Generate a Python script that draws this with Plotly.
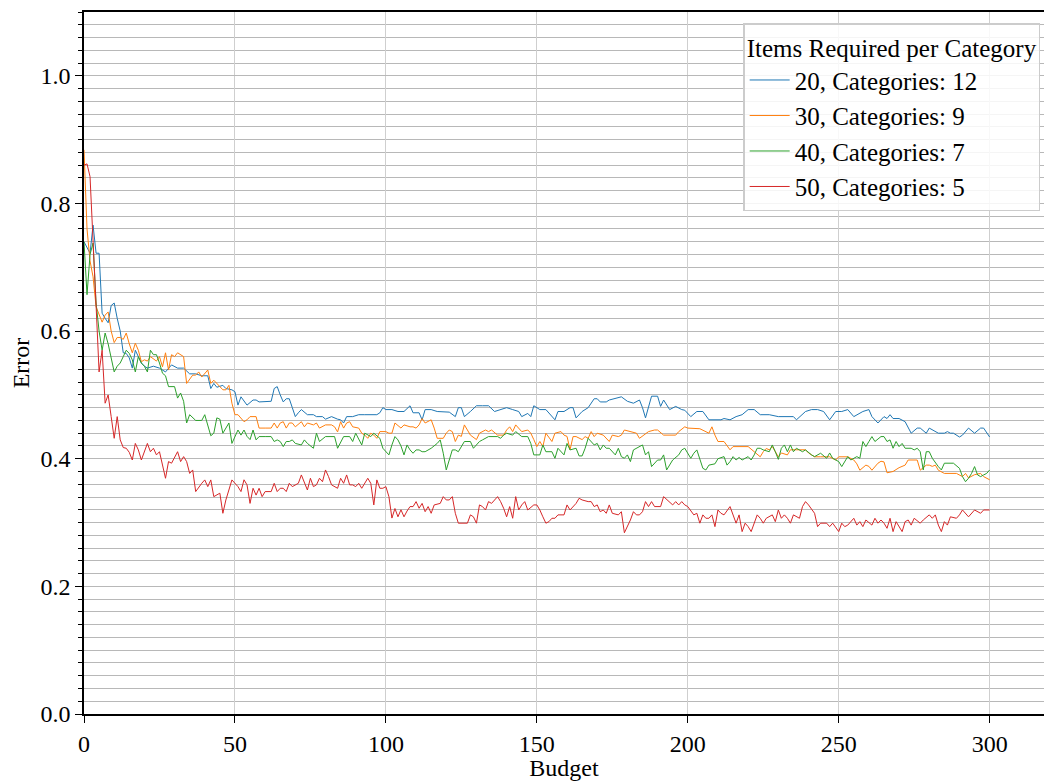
import plotly.graph_objects as go

# ---- data (budget, error) ----
series_names = ["20, Categories: 12", "30, Categories: 9", "40, Categories: 7", "50, Categories: 5"]
series_colors = ["#1f77b4", "#ff7f0e", "#2ca02c", "#d62728"]

err_20 = [(0,0.74),(1,0.73),(2,0.722),(3,0.766),(4,0.722),(5,0.722),(6,0.628),(7,0.62),(8,0.613),(9,0.64),(10,0.644),(11,0.62),(12,0.60),(13,0.566),(14,0.565),(15,0.558),(16,0.542),(17,0.57),(18,0.56),(19,0.55),(20,0.545),(21,0.542),(23,0.545),(25,0.542),(27,0.536),(29,0.547),(31,0.542),(33,0.542),(35,0.533),(37,0.533),(39,0.53),(41,0.53),(42,0.51),(43,0.518),(44,0.512),(46,0.515),(47,0.51),(49,0.508),(50,0.505),(51,0.484),(52,0.497),(53,0.49),(54,0.484),(56,0.492),(57,0.492),(58,0.489),(60,0.489),(62,0.49),(63,0.51),(64,0.513),(65,0.5),(66,0.489),(67,0.494),(68,0.494),(69,0.48),(70,0.466),(71,0.472),(72,0.477),(74,0.469),(76,0.469),(77,0.466),(79,0.466),(80,0.462),(82,0.466),(84,0.462),(85,0.461),(86,0.456),(87,0.466),(89,0.466),(91,0.469),(93,0.469),(95,0.469),(97,0.469),(98,0.472),(99,0.48),(100,0.477),(102,0.477),(104,0.474),(106,0.474),(108,0.483),(109,0.472),(111,0.472),(112,0.461),(113,0.477),(115,0.477),(117,0.474),(119,0.474),(121,0.473),(123,0.466),(124,0.48),(125,0.48),(126,0.466),(128,0.474),(130,0.483),(132,0.483),(134,0.483),(136,0.474),(138,0.477),(140,0.48),(142,0.477),(144,0.474),(145,0.466),(147,0.471),(148,0.466),(149,0.483),(151,0.477),(153,0.477),(156,0.461),(157,0.474),(159,0.474),(161,0.48),(162,0.48),(163,0.464),(165,0.474),(167,0.48),(169,0.494),(170,0.494),(171,0.489),(173,0.489),(174,0.492),(176,0.495),(178,0.497),(180,0.49),(182,0.487),(184,0.492),(185,0.48),(186,0.464),(188,0.498),(190,0.498),(191,0.482),(192,0.492),(194,0.477),(196,0.482),(198,0.477),(199,0.476),(201,0.466),(203,0.474),(205,0.474),(207,0.461),(209,0.461),(211,0.461),(212,0.463),(214,0.461),(216,0.466),(218,0.469),(220,0.477),(222,0.477),(224,0.469),(227,0.469),(230,0.466),(233,0.466),(235,0.466),(236,0.461),(239,0.474),(241,0.477),(243,0.477),(245,0.474),(247,0.461),(249,0.474),(251,0.474),(253,0.477),(255,0.466),(258,0.474),(260,0.477),(261,0.466),(263,0.456),(265,0.466),(266,0.463),(267,0.469),(268,0.463),(270,0.463),(272,0.458),(274,0.440),(276,0.448),(277,0.448),(279,0.44),(280,0.448),(281,0.445),(283,0.44),(285,0.44),(286,0.4425),(287,0.44),(288,0.44),(290,0.434),(291,0.437),(293,0.448),(295,0.44),(297,0.448),(298,0.448),(300,0.434)]

err_30 = [(0,0.884),(1,0.76),(2,0.71),(3,0.685),(4,0.638),(5,0.625),(6,0.614),(7,0.625),(8,0.63),(9,0.6),(10,0.582),(11,0.59),(12,0.59),(13,0.587),(14,0.597),(15,0.58),(16,0.566),(17,0.581),(18,0.57),(19,0.552),(20,0.555),(21,0.553),(22,0.56),(24,0.553),(25,0.56),(26,0.544),(27,0.566),(28,0.539),(29,0.563),(30,0.56),(31,0.566),(33,0.56),(34,0.518),(36,0.531),(37,0.531),(38,0.536),(39,0.528),(41,0.539),(42,0.518),(43,0.523),(44,0.518),(46,0.508),(47,0.508),(48,0.515),(49,0.487),(50,0.469),(51,0.469),(52,0.464),(53,0.458),(54,0.461),(55,0.466),(57,0.466),(58,0.448),(60,0.448),(62,0.448),(63,0.456),(64,0.448),(65,0.456),(66,0.458),(67,0.448),(68,0.456),(69,0.456),(70,0.45),(72,0.458),(73,0.45),(74,0.456),(76,0.453),(77,0.456),(78,0.448),(80,0.453),(82,0.453),(83,0.45),(84,0.442),(85,0.458),(86,0.448),(87,0.456),(88,0.458),(89,0.45),(91,0.448),(92,0.44),(93,0.437),(94,0.432),(95,0.44),(96,0.437),(97,0.432),(98,0.4425),(100,0.4425),(101,0.44),(102,0.44),(103,0.456),(105,0.448),(106,0.453),(108,0.45),(109,0.45),(110,0.448),(111,0.453),(112,0.463),(113,0.456),(115,0.461),(116,0.448),(117,0.432),(119,0.432),(120,0.44),(121,0.445),(122,0.4425),(123,0.427),(124,0.437),(125,0.435),(126,0.453),(127,0.445),(128,0.437),(130,0.43),(131,0.44),(133,0.445),(134,0.4425),(135,0.445),(137,0.437),(139,0.437),(140,0.445),(141,0.45),(142,0.4425),(143,0.453),(144,0.448),(145,0.4425),(147,0.445),(148,0.44),(149,0.43),(150,0.419),(151,0.427),(152,0.419),(153,0.44),(155,0.427),(156,0.44),(158,0.4425),(159,0.437),(160,0.435),(161,0.414),(162,0.4347),(163,0.4347),(165,0.43),(166,0.4347),(167,0.432),(168,0.4425),(169,0.4347),(170,0.44),(172,0.437),(174,0.427),(175,0.437),(177,0.4347),(178,0.437),(179,0.445),(181,0.4425),(183,0.44),(184,0.432),(187,0.4425),(189,0.445),(190,0.445),(192,0.437),(194,0.437),(196,0.437),(197,0.4425),(199,0.45),(200,0.448),(202,0.447),(204,0.447),(207,0.44),(208,0.45),(209,0.437),(210,0.427),(212,0.427),(214,0.414),(215,0.419),(218,0.419),(220,0.419),(222,0.411),(224,0.403),(225,0.411),(226,0.416),(227,0.414),(228,0.419),(230,0.403),(231,0.409),(233,0.406),(234,0.414),(237,0.414),(239,0.414),(240,0.409),(242,0.403),(244,0.403),(247,0.403),(249,0.398),(250,0.403),(253,0.403),(255,0.398),(256,0.392),(257,0.382),(259,0.39),(260,0.388),(261,0.382),(263,0.393),(264,0.396),(265,0.395),(266,0.378),(268,0.38),(270,0.386),(272,0.39),(273,0.398),(276,0.398),(277,0.382),(279,0.39),(280,0.39),(281,0.388),(282,0.39),(283,0.382),(285,0.377),(289,0.377),(291,0.372),(292,0.377),(293,0.37),(295,0.375),(297,0.377),(298,0.372),(300,0.367)]

err_40 = [(0,0.74),(1,0.657),(2,0.72),(3,0.738),(4,0.644),(5,0.6),(6,0.57),(7,0.597),(8,0.58),(9,0.56),(10,0.536),(11,0.545),(12,0.55),(13,0.56),(14,0.57),(15,0.565),(16,0.555),(17,0.536),(18,0.56),(19,0.55),(20,0.545),(21,0.536),(22,0.57),(23,0.563),(24,0.563),(25,0.55),(26,0.534),(27,0.53),(28,0.513),(30,0.513),(31,0.495),(32,0.503),(33,0.49),(34,0.456),(35,0.469),(37,0.46),(39,0.46),(40,0.469),(42,0.436),(43,0.44),(44,0.464),(45,0.462),(46,0.44),(48,0.456),(49,0.424),(51,0.445),(52,0.437),(53,0.445),(54,0.435),(55,0.43),(56,0.445),(57,0.4295),(58,0.4347),(60,0.4347),(62,0.4347),(63,0.427),(64,0.4295),(65,0.427),(66,0.419),(67,0.427),(68,0.427),(69,0.4295),(70,0.424),(72,0.4216),(73,0.4295),(74,0.424),(76,0.4164),(77,0.44),(78,0.427),(80,0.4347),(83,0.4347),(84,0.4164),(86,0.4347),(88,0.4347),(89,0.427),(90,0.44),(92,0.4216),(93,0.44),(95,0.4347),(96,0.44),(98,0.432),(99,0.4164),(101,0.406),(102,0.4216),(103,0.4347),(104,0.4295),(105,0.42),(106,0.406),(107,0.4216),(108,0.4138),(109,0.4086),(110,0.4138),(111,0.4138),(112,0.411),(113,0.411),(115,0.4164),(117,0.424),(118,0.4295),(119,0.4086),(120,0.3824),(121,0.398),(122,0.4138),(123,0.4138),(124,0.411),(126,0.427),(128,0.427),(129,0.4164),(130,0.4216),(131,0.427),(132,0.4295),(134,0.4347),(137,0.4347),(138,0.432),(139,0.437),(140,0.44),(142,0.437),(143,0.4425),(145,0.4347),(147,0.4347),(148,0.424),(149,0.406),(151,0.406),(152,0.4216),(153,0.411),(155,0.411),(156,0.4007),(157,0.4164),(159,0.406),(160,0.424),(161,0.4138),(163,0.4164),(164,0.4044),(165,0.4044),(166,0.4164),(167,0.432),(169,0.4216),(170,0.424),(171,0.4138),(172,0.4216),(173,0.4164),(174,0.4164),(176,0.406),(177,0.4164),(178,0.4033),(179,0.4007),(180,0.406),(181,0.3955),(182,0.4138),(183,0.4164),(185,0.4216),(186,0.406),(187,0.411),(188,0.3877),(190,0.398),(191,0.398),(192,0.406),(193,0.3824),(195,0.398),(197,0.406),(198,0.4138),(199,0.4164),(201,0.4007),(202,0.4086),(203,0.4138),(205,0.385),(206,0.3824),(207,0.39),(209,0.392),(210,0.4),(212,0.4033),(213,0.39),(214,0.3955),(215,0.4033),(216,0.398),(217,0.402),(218,0.398),(220,0.4033),(221,0.398),(222,0.406),(223,0.4164),(224,0.4164),(225,0.4138),(227,0.411),(228,0.4216),(229,0.411),(230,0.399),(231,0.4164),(232,0.4216),(233,0.411),(234,0.4216),(235,0.411),(236,0.4164),(238,0.411),(239,0.4138),(241,0.406),(242,0.4033),(244,0.4086),(246,0.4007),(247,0.409),(248,0.4007),(250,0.3955),(251,0.3877),(253,0.4033),(254,0.398),(256,0.4033),(257,0.4007),(258,0.427),(259,0.419),(260,0.427),(261,0.4347),(262,0.427),(264,0.4347),(265,0.4347),(266,0.427),(267,0.4295),(268,0.4164),(269,0.427),(270,0.419),(271,0.424),(272,0.4164),(274,0.4164),(275,0.4138),(276,0.4164),(277,0.411),(278,0.3824),(279,0.411),(280,0.411),(281,0.4007),(283,0.3877),(284,0.3824),(285,0.393),(288,0.393),(290,0.385),(291,0.372),(292,0.364),(293,0.3694),(294,0.377),(295,0.3877),(296,0.3746),(297,0.372),(298,0.3746),(299,0.377),(300,0.3824)]

err_50 = [(0,0.86),(1,0.862),(2,0.842),(3,0.748),(4,0.64),(5,0.536),(6,0.57),(7,0.487),(8,0.5),(9,0.466),(10,0.432),(11,0.466),(12,0.4295),(13,0.4175),(14,0.4164),(15,0.41),(16,0.398),(17,0.424),(18,0.4138),(19,0.398),(21,0.424),(22,0.411),(23,0.4164),(24,0.406),(25,0.411),(27,0.3694),(28,0.3955),(29,0.393),(31,0.411),(32,0.3955),(33,0.4033),(34,0.3955),(35,0.377),(36,0.3824),(37,0.3485),(39,0.3615),(40,0.3668),(41,0.3563),(42,0.3668),(43,0.3406),(45,0.346),(46,0.3145),(47,0.3354),(49,0.3668),(51,0.3563),(52,0.3485),(53,0.367),(54,0.359),(55,0.33),(56,0.3537),(57,0.343),(58,0.3537),(59,0.3406),(60,0.3485),(62,0.3485),(63,0.3615),(64,0.3485),(65,0.3537),(66,0.3537),(67,0.3485),(68,0.3615),(69,0.3563),(70,0.359),(71,0.3615),(72,0.3746),(74,0.351),(75,0.3694),(76,0.3563),(77,0.359),(78,0.3694),(79,0.364),(80,0.3824),(81,0.372),(82,0.359),(84,0.3537),(85,0.3694),(86,0.3615),(87,0.3746),(88,0.359),(89,0.359),(90,0.3563),(91,0.3615),(92,0.3537),(94,0.3694),(95,0.3615),(96,0.3276),(97,0.3668),(98,0.3537),(99,0.3537),(100,0.3563),(101,0.3406),(102,0.307),(103,0.322),(104,0.309),(105,0.32),(106,0.309),(107,0.318),(108,0.325),(109,0.325),(110,0.3328),(111,0.3224),(112,0.33),(113,0.317),(114,0.325),(115,0.3145),(116,0.3276),(118,0.33),(119,0.3406),(120,0.3354),(121,0.3354),(122,0.3406),(123,0.3145),(124,0.299),(127,0.299),(128,0.312),(129,0.309),(130,0.299),(131,0.3276),(132,0.325),(133,0.3197),(134,0.3328),(135,0.33),(137,0.3406),(138,0.3328),(139,0.3224),(140,0.309),(141,0.325),(142,0.3067),(143,0.3406),(144,0.3197),(145,0.3276),(146,0.3328),(147,0.3197),(149,0.3276),(150,0.3276),(151,0.3197),(152,0.309),(153,0.299),(154,0.3014),(155,0.3067),(156,0.3067),(157,0.312),(159,0.312),(160,0.3276),(161,0.3197),(162,0.325),(163,0.33),(164,0.338),(165,0.3354),(167,0.3328),(168,0.3328),(169,0.325),(170,0.3276),(171,0.317),(172,0.3197),(173,0.3145),(174,0.3276),(175,0.3145),(177,0.312),(178,0.317),(179,0.284),(181,0.304),(182,0.317),(183,0.312),(184,0.312),(185,0.317),(186,0.3328),(187,0.325),(188,0.3328),(189,0.325),(191,0.325),(192,0.3406),(194,0.3328),(195,0.3276),(196,0.3328),(197,0.3276),(198,0.3328),(199,0.3276),(200,0.325),(202,0.312),(203,0.3145),(204,0.299),(205,0.312),(206,0.3067),(207,0.3067),(208,0.312),(209,0.2936),(210,0.3197),(211,0.3145),(212,0.312),(214,0.325),(215,0.312),(216,0.299),(217,0.312),(218,0.2858),(219,0.299),(220,0.2936),(221,0.2858),(222,0.299),(223,0.312),(224,0.3067),(225,0.299),(226,0.3067),(228,0.312),(229,0.3014),(230,0.3197),(231,0.3067),(232,0.312),(233,0.3067),(234,0.299),(235,0.312),(237,0.3067),(238,0.325),(239,0.3328),(240,0.3276),(242,0.3145),(243,0.2936),(244,0.299),(246,0.299),(247,0.2936),(248,0.299),(250,0.2858),(251,0.299),(252,0.2936),(253,0.296),(255,0.3067),(256,0.296),(257,0.3014),(258,0.2936),(259,0.304),(261,0.296),(262,0.3067),(263,0.299),(264,0.304),(265,0.299),(266,0.291),(267,0.3067),(268,0.2858),(269,0.3014),(270,0.2936),(271,0.2858),(272,0.3014),(273,0.304),(274,0.296),(275,0.3067),(277,0.299),(278,0.304),(280,0.312),(281,0.3067),(282,0.312),(283,0.296),(284,0.2858),(285,0.3014),(286,0.296),(287,0.309),(289,0.3067),(290,0.312),(291,0.3197),(292,0.3145),(293,0.309),(295,0.3197),(297,0.3145),(298,0.3197),(300,0.3197)]

all_series = [err_20, err_30, err_40, err_50]

x_ticks = [0, 50, 100, 150, 200, 250, 300]
y_ticks = [0.0, 0.2, 0.4, 0.6, 0.8, 1.0]

FONT = "Liberation Serif"
FS = 24
LEG_FS = 25

fig = go.Figure()
for name, color, data in zip(series_names, series_colors, all_series):
    fig.add_trace(go.Scatter(
        x=[p[0] for p in data], y=[p[1] for p in data],
        mode="lines", name=name,
        line=dict(color=color, width=1),
    ))

fig.update_layout(
    width=1044, height=781,
    margin=dict(l=84, r=0, t=12, b=67, autoexpand=False),
    paper_bgcolor="white", plot_bgcolor="white",
    font=dict(family=FONT, size=FS, color="black"),
    showlegend=True,
    legend=dict(
        title=dict(text="Items Required per Category", side="top center",
                   font=dict(family=FONT, size=LEG_FS)),
        x=0.996, y=0.984, xanchor="right", yanchor="top",
        bgcolor="rgba(255,255,255,0.85)", bordercolor="#cccccc", borderwidth=1.5,
        font=dict(family=FONT, size=LEG_FS),
        tracegroupgap=0, itemwidth=40,
    ),
)

fig.update_xaxes(
    range=[0, 318], tickvals=x_ticks, ticktext=[str(v) for v in x_ticks],
    showline=True, linecolor="black", linewidth=1.5, mirror=True,
    ticks="outside", ticklen=7, tickwidth=1.2, tickcolor="black",
    showgrid=True, gridcolor="#cfcfcf", gridwidth=1.2,
    zeroline=False,
    title=dict(text="Budget", font=dict(family=FONT, size=FS), standoff=2),
    tickfont=dict(family=FONT, size=FS),
)
fig.update_yaxes(
    range=[0, 1.1], tickvals=y_ticks, ticktext=[f"{v:.1f}" for v in y_ticks],
    showline=True, linecolor="black", linewidth=1.5,
    ticks="outside", ticklen=7, tickwidth=1.2, tickcolor="black",
    showgrid=True, gridcolor="#b8b8b8", gridwidth=1,
    minor=dict(dtick=0.02, tick0=0, ticks="outside", ticklen=4, tickwidth=1,
               tickcolor="black", showgrid=True, gridcolor="#b8b8b8", gridwidth=1),
    zeroline=False,
    title=dict(text="Error", font=dict(family=FONT, size=FS), standoff=4),
    tickfont=dict(family=FONT, size=FS),
)

fig.write_html("out.html",
               config={"displayModeBar": False},
               post_script="document.body.style.margin='0';document.body.style.padding='0';")
